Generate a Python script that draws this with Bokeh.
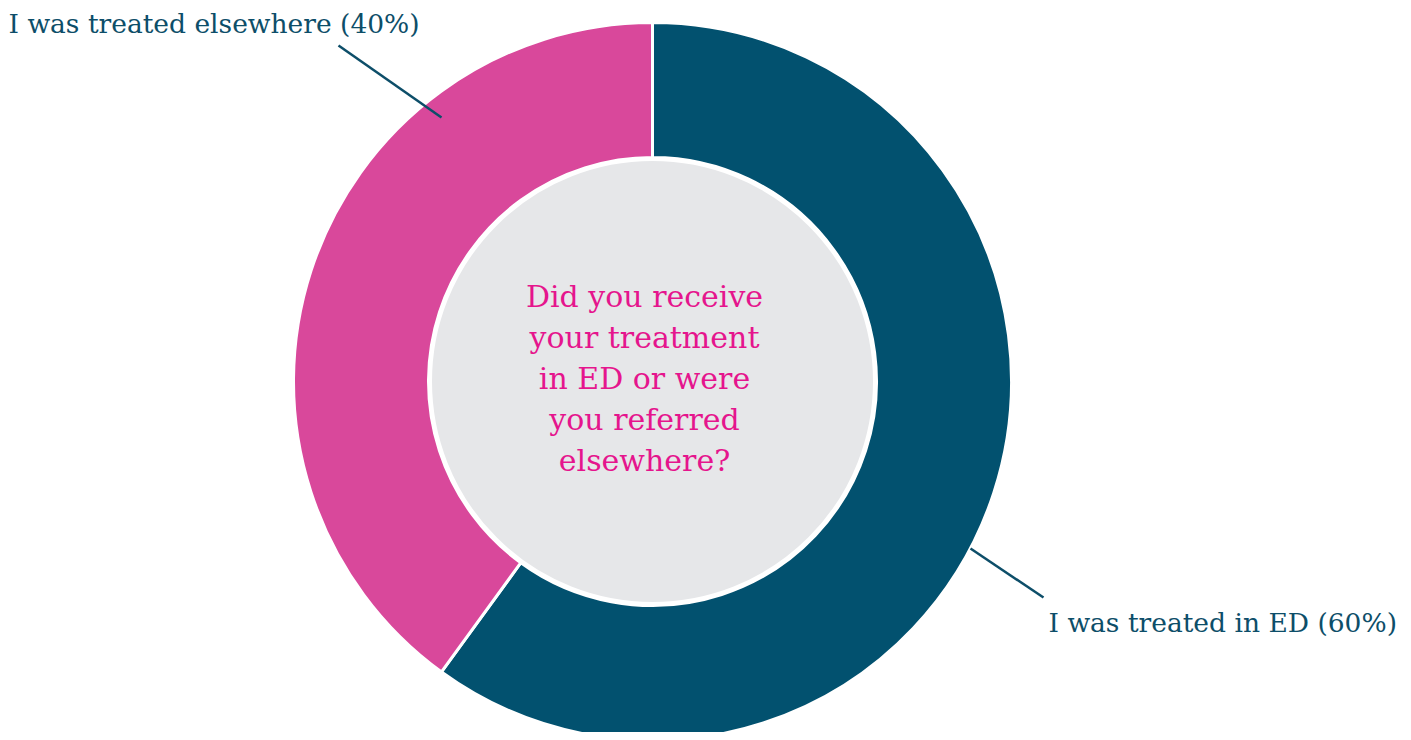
import numpy as np
from bokeh.plotting import figure
from bokeh.models import Range1d, ColumnDataSource
from bokeh.core.properties import value
from bokeh.embed import file_html
from bokeh.resources import INLINE

# ---- data ----
categories = ["I was treated in ED", "I was treated elsewhere"]
values = [60, 40]
colors = ["#02516f", "#d9489b"]
question_lines = ["Did you receive", "your treatment", "in ED or were",
                  "you referred", "elsewhere?"]

W, H = 1403, 732
FONT = "DejaVu Serif"

p = figure(width=W, height=H, output_backend="svg", toolbar_location=None,
           x_range=Range1d(0, W), y_range=Range1d(740 - H, 740),
           min_border=0)
p.axis.visible = False
p.grid.visible = False
p.outline_line_color = None
p.background_fill_color = "white"

def sy(y):  # screen y -> data y
    return 740 - y

cx, cy = 652, sy(381)
R_out, R_in = 359, 224

vals = np.array(values, dtype=float)
frac = vals / vals.sum()
cum = np.concatenate([[0], np.cumsum(frac)])
start = np.pi / 2 - 2 * np.pi * cum[:-1]
end = np.pi / 2 - 2 * np.pi * cum[1:]

src = ColumnDataSource(dict(x=[cx] * len(values), y=[cy] * len(values),
                            start=start, end=end, color=colors))
p.annular_wedge(x="x", y="y", inner_radius=R_in, outer_radius=R_out,
                start_angle="start", end_angle="end", direction="clock",
                fill_color="color", line_color="white", line_width=3,
                source=src)

# inner grey disc
p.circle(x=[cx], y=[cy], radius=221.5, fill_color="#e6e7e9",
         line_color="white", line_width=2)

# question text
base = sy(296)
qy = [base - 41 * i for i in range(len(question_lines))]
p.text(x=[644] * len(question_lines), y=qy, text=question_lines,
       text_align="center", text_baseline="alphabetic",
       text_font=value(FONT), text_font_size="30px", text_color="#e5158d")

# leader lines and labels
label_col = "#0d4e69"
p.line(x=[441, 338], y=[sy(117), sy(45)], line_color=label_col, line_width=2.5)
p.line(x=[970, 1043], y=[sy(548), sy(597)], line_color=label_col, line_width=2.5)

p.text(x=[8], y=[sy(23)], text=[f"{categories[1]} ({values[1]}%)"],
       text_align="left", text_baseline="alphabetic",
       text_font=value(FONT), text_font_size="26.5px", text_color=label_col)
p.text(x=[1048], y=[sy(622)], text=[f"{categories[0]} ({values[0]}%)"],
       text_align="left", text_baseline="alphabetic",
       text_font=value(FONT), text_font_size="26.5px", text_color=label_col)

open("out.html", "w").write(file_html(p, INLINE))
